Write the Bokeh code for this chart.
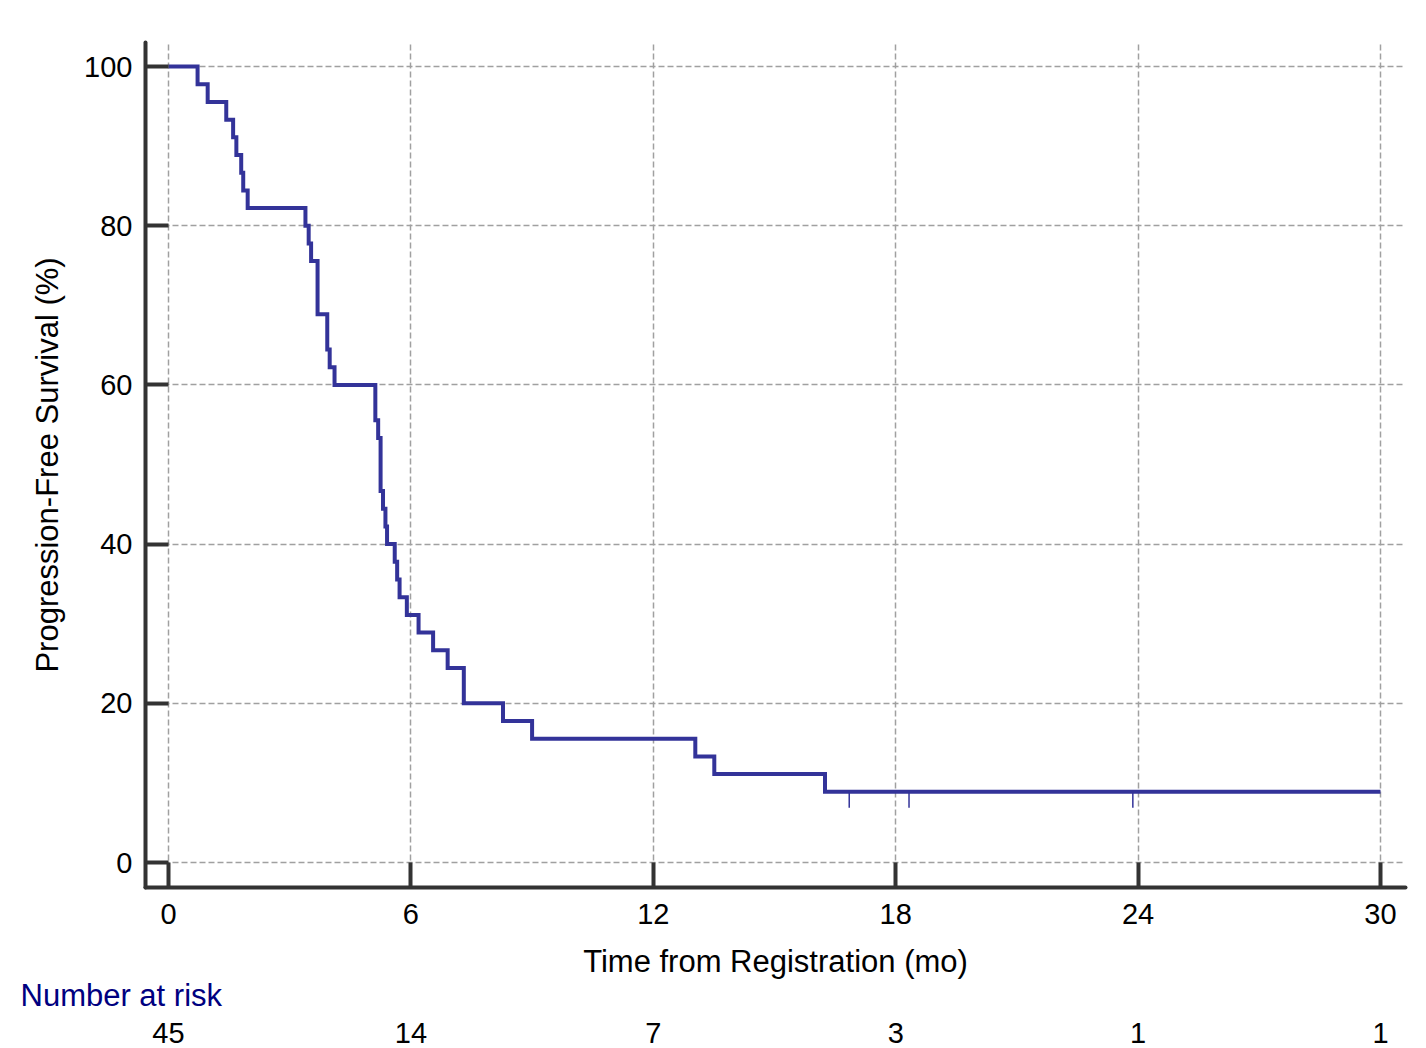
from bokeh.plotting import figure
from bokeh.models import Range1d, FixedTicker, LinearAxis, Title
from bokeh.embed import file_html
from bokeh.resources import INLINE

# ---- data ----
times = [0, 0.72, 0.97, 1.43, 1.60, 1.68, 1.80, 1.85, 1.96, 3.39, 3.47, 3.53, 3.69,
         3.93, 3.99, 4.11, 5.12, 5.19, 5.25, 5.31, 5.37, 5.41, 5.60, 5.66, 5.72, 5.90,
         6.19, 6.55, 6.91, 7.31, 8.28, 9.00, 13.04, 13.51, 16.25, 30.0]
survival = [100, 97.78, 95.56, 93.33, 91.11, 88.89, 86.67, 84.44, 82.22, 80.0, 77.78,
            75.56, 68.89, 64.44, 62.22, 60.0, 55.56, 53.33, 46.67, 44.44, 42.22, 40.0,
            37.78, 35.56, 33.33, 31.11, 28.89, 26.67, 24.44, 20.0, 17.78, 15.56, 13.33,
            11.11, 8.89, 8.89]
censor_times = [16.85, 18.33, 23.87]
censor_surv = [8.89, 8.89, 8.89]
x_ticks = [0, 6, 12, 18, 24, 30]
y_ticks = [0, 20, 40, 60, 80, 100]
risk_times = [0, 6, 12, 18, 24, 30]
risk_counts = ["45", "14", "7", "3", "1", "1"]
risk_title = "Number at risk"

FONT = "Liberation Sans"
CURVE = "#333399"
AXIS = "#333333"
GRID = "#a0a0a0"
CENSOR_LEN = 2.0  # tick length below the curve, in % units

W, H = 1426, 1048
X0, X1 = -0.569, 30.619
Y0, Y1 = -3.14, 103.02

p = figure(width=W, height=H,
           x_range=Range1d(X0, X1), y_range=Range1d(Y0, Y1),
           output_backend="svg", toolbar_location=None,
           min_border_left=145, min_border_right=21,
           min_border_top=42, min_border_bottom=H - 887)
p.outline_line_color = None
p.background_fill_color = "white"
p.border_fill_color = "white"

# grids
for g, t in ((p.xgrid, x_ticks), (p.ygrid, y_ticks)):
    g.ticker = FixedTicker(ticks=t)
    g.grid_line_color = GRID
    g.grid_line_dash = "6 3"
    g.grid_line_width = 1.5

# axes
p.xaxis.ticker = FixedTicker(ticks=x_ticks)
p.yaxis.ticker = FixedTicker(ticks=y_ticks)
for ax in (p.xaxis[0], p.yaxis[0]):
    ax.axis_line_width = 4
    ax.axis_line_color = AXIS
    ax.axis_line_cap = "round"
    ax.major_tick_line_width = 4
    ax.major_tick_line_color = AXIS
    ax.major_tick_out = 0
    ax.minor_tick_line_color = None
    ax.major_label_text_font = FONT
    ax.major_label_text_font_size = "29px"
    ax.major_label_text_color = "black"
    ax.axis_label_text_font = FONT
    ax.axis_label_text_font_size = "31px"
    ax.axis_label_text_font_style = "normal"
    ax.axis_label_text_color = "black"
p.xaxis.major_tick_in = 25
p.yaxis.major_tick_in = 23
p.xaxis.major_label_standoff = 16
p.yaxis.major_label_standoff = 13
p.xaxis.axis_label = "Time from Registration (mo)"
p.yaxis.axis_label = "Progression-Free Survival (%)"
p.xaxis.axis_label_standoff = 17
p.yaxis.axis_label_standoff = 16

# KM curve
p.step(times, survival, mode="after", line_color=CURVE, line_width=4, line_join="miter")
# censor marks
p.segment(x0=censor_times, y0=censor_surv, x1=censor_times,
          y1=[s - CENSOR_LEN for s in censor_surv], line_color=CURVE, line_width=1.5)

# ---- number at risk (side panels below the x axis, so not clipped) ----
p.add_layout(Title(text=risk_title, align="left", offset=-125, standoff=-12,
                   text_font=FONT, text_font_size="31px", text_font_style="normal",
                   text_color="#000080"), "below")
risk_axis = LinearAxis(ticker=FixedTicker(ticks=risk_times),
                       major_label_overrides=dict(zip(risk_times, risk_counts)),
                       axis_line_color=None, major_tick_line_color=None,
                       minor_tick_line_color=None, major_tick_in=0, major_tick_out=0,
                       major_label_standoff=16, major_label_text_font=FONT,
                       major_label_text_font_size="29px", major_label_text_color="black")
p.add_layout(risk_axis, "below")

open("out.html", "w").write(file_html(p, INLINE))
